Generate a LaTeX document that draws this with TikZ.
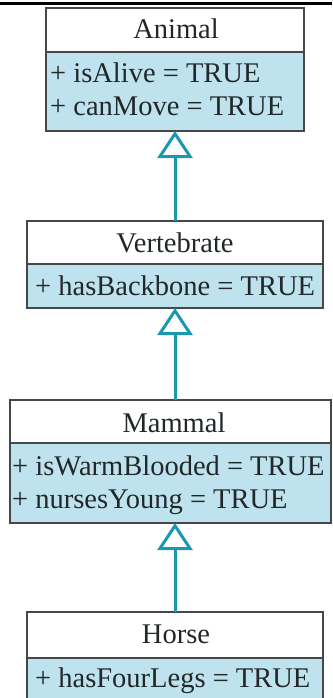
\documentclass[tikz,border=0pt]{standalone}
\usepackage{fontspec}
\setmainfont{Liberation Serif}
\usetikzlibrary{arrows.meta}
\definecolor{boxline}{HTML}{474747}
\definecolor{attrfill}{HTML}{BEE3EE}
\definecolor{genline}{HTML}{1A98B2}
\definecolor{ink}{HTML}{22272A}
\begin{document}
\begin{tikzpicture}[x=1pt,y=-1pt,
  part/.style={draw=boxline, line width=1.5pt, anchor=north west, inner sep=0pt, outer sep=0pt},
  head/.style={part, fill=white},
  body/.style={part, fill=attrfill},
  title/.style={anchor=base, inner sep=0pt, font=\fontsize{28.5}{32}\selectfont, text=ink},
  field/.style={anchor=base west, inner sep=0pt, font=\fontsize{28.5}{32}\selectfont, text=ink},
  gen/.style={draw=genline, line width=3pt, -{Triangle[open, length=27pt, width=35pt, line width=3pt]}}
]
\useasboundingbox (0,0) rectangle (332,698);
\clip (0,0) rectangle (332,698);
\fill[white] (0,0) rectangle (332,698);

% rule across the top
\draw[line width=2.5pt] (0,3.5) -- (332,3.5);

% Animal
\node[head, minimum width=258pt, minimum height=44pt] (ahead) at (46,8) {};
\node[body, minimum width=258pt, minimum height=79pt] (abody) at (46,52) {};
\node[title] (atitle) at (176,39) {Animal};
\node[field] (af1) at (50,83) {+ isAlive = TRUE};
\node[field] (af2) at (50,115) {+ canMove = TRUE};

% Vertebrate
\node[head, minimum width=296pt, minimum height=43pt] (vhead) at (27,221) {};
\node[body, minimum width=296pt, minimum height=44pt] (vbody) at (27,264) {};
\node[title] (vtitle) at (175,252) {Vertebrate};
\node[field] (vf1) at (35,295) {+ hasBackbone = TRUE};

% Mammal
\node[head, minimum width=321pt, minimum height=43pt] (mhead) at (10,400) {};
\node[body, minimum width=321pt, minimum height=80pt] (mbody) at (10,443) {};
\node[title] (mtitle) at (174,432) {Mammal};
\node[field] (mf1) at (12,475) {+ isWarmBlooded = TRUE};
\node[field] (mf2) at (12,508) {+ nursesYoung = TRUE};

% Horse
\node[head, minimum width=296pt, minimum height=46pt] (hhead) at (27,612) {};
\node[body, minimum width=296pt, minimum height=50pt] (hbody) at (27,658) {};
\node[title] (htitle) at (176,643) {Horse};
\node[field] (hf1) at (35,687) {+ hasFourLegs = TRUE};

% generalisation arrows
\draw[gen] (vhead.north) -- (vhead.north |- abody.south);
\draw[gen] (vhead.north |- mhead.north) -- (vbody.south);
\draw[gen] (hhead.north) -- (hhead.north |- mbody.south);
\end{tikzpicture}
\end{document}
